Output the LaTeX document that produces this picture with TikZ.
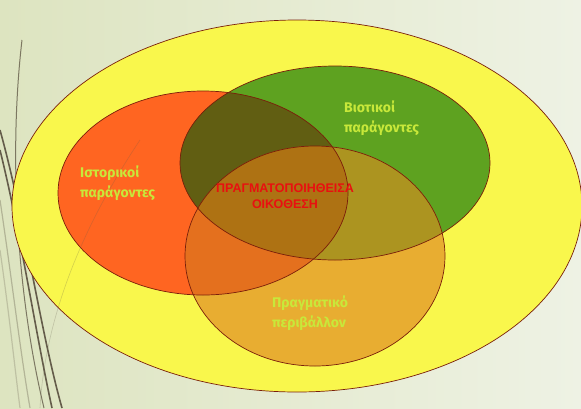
\documentclass[tikz,border=0pt]{standalone}
\usepackage{fontspec}
\setmainfont{Fira Sans}
\newfontfamily\arialf{Liberation Sans}
\definecolor{bgl}{RGB}{221,228,192}
\definecolor{bgr}{RGB}{238,242,228}
\definecolor{cyel}{RGB}{249,247,76}
\definecolor{cor}{RGB}{255,101,33}
\definecolor{cgr}{RGB}{94,162,32}
\definecolor{cbo}{RGB}{232,173,49}
\definecolor{cog}{RGB}{97,94,18}
\definecolor{cob}{RGB}{228,112,30}
\definecolor{cgb}{RGB}{172,148,32}
\definecolor{cogb}{RGB}{174,114,19}
\definecolor{cedge}{RGB}{122,30,10}
\definecolor{clab}{RGB}{200,232,58}
\definecolor{cred}{RGB}{232,16,16}
\definecolor{cline}{RGB}{100,92,74}
\tikzset{
  edge/.style={draw=cedge,line width=0.7pt},
  lab/.style={anchor=west,align=left,text=clab,font=\fontsize{14}{20}\selectfont\bfseries,inner sep=0pt},
  ctr/.style={align=center,text=cred,font=\arialf\fontsize{12.5}{15.5}\selectfont\bfseries,inner sep=0pt},
  bgcurve/.style={draw=cline,line width=1.6pt}
}
\def\Ebig{(297,206) ellipse [x radius=285, y radius=186]}
\def\Eo{(203,193) ellipse [x radius=145, y radius=102]}
\def\Eg{(335,163) ellipse [x radius=155, y radius=97]}
\def\Eb{(315,256) ellipse [x radius=130, y radius=110]}
\begin{document}
\begin{tikzpicture}[x=1pt,y=-1pt]
\useasboundingbox (0,0) rectangle (581,408);
\shade[left color=bgl,right color=bgr] (0,0) rectangle (581,408);
% decorative background curves
\draw[bgcurve] (0,130) .. controls (25,220) and (40,330) .. (62,408);
\draw[bgcurve] (0,150) .. controls (22,240) and (36,335) .. (52,408);
\draw[bgcurve,line width=1pt,opacity=0.8] (22,40) .. controls (8,160) and (18,300) .. (44,408);
\draw[bgcurve,line width=1.2pt,opacity=0.35] (0,200) .. controls (12,280) and (20,350) .. (30,408);
\draw[bgcurve,line width=1.2pt,opacity=0.25] (0,250) .. controls (10,320) and (15,370) .. (20,408);
% ellipses
\fill[cyel] \Ebig;
\fill[cor] \Eo;
\fill[cgr] \Eg;
\fill[cbo] \Eb;
\begin{scope}
  \clip \Eg;
  \fill[cgb] \Eb;
\end{scope}
\begin{scope}
  \clip \Eo;
  \fill[cog] \Eg;
  \fill[cob] \Eb;
  \clip \Eg;
  \fill[cogb] \Eb;
\end{scope}
\draw[edge] \Ebig;
\draw[edge] \Eo;
\draw[edge] \Eg;
\draw[edge] \Eb;
% faint line through shapes
\draw[cline,line width=0.6pt,opacity=0.25] (140,140) .. controls (80,230) and (45,320) .. (40,408);
% labels
\node[lab] (hist) at (80,183) {Ιστορικοί\\παράγοντες};
\node[lab] (biot) at (344,118) {Βιοτικοί\\παράγοντες};
\node[lab] (env) at (272,313) {Πραγματικό\\περιβάλλον};
\node[ctr] (centre) at (285,196) {ΠΡΑΓΜΑΤΟΠΟΙΗΘΕΙΣΑ\\ΟΙΚΟΘΕΣΗ};
\end{tikzpicture}
\end{document}
